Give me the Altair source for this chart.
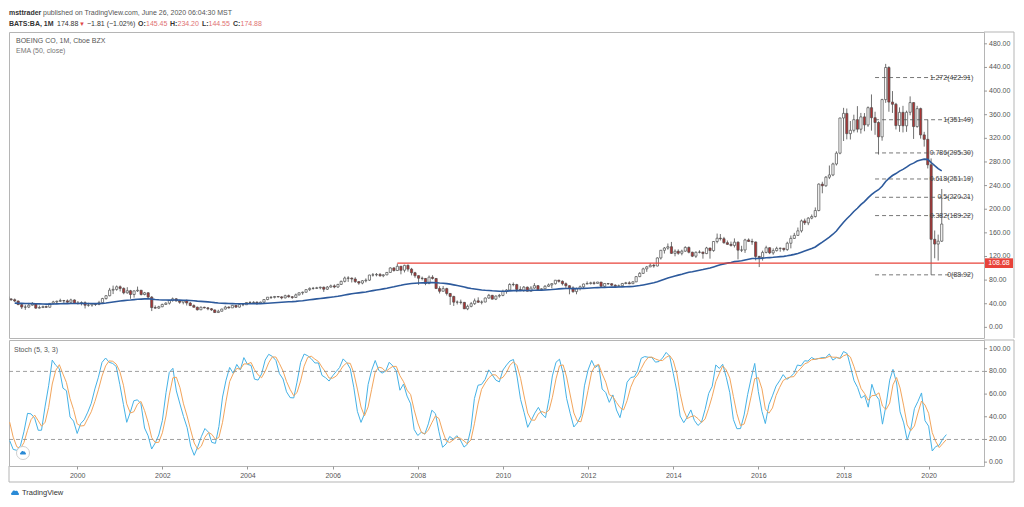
import altair as alt
import pandas as pd
import numpy as np

# ---------------- data (monthly bars, Oct 1997 .. Jun 2020) ----------------
START = "1997-10-01"
FIRST_OPEN = 54.0

closes = [
    48.1, 52.6, 48.9,                                                             # 1997 Oct-Dec
    48.5, 51.9, 52.1, 48.1, 46.8, 44.6, 38.5, 34.4, 34.3, 37.6, 39.6, 32.6,        # 1998
    33.6, 35.1, 34.1, 40.6, 43.1, 44.2, 45.4, 44.9, 42.6, 46.4, 40.4, 41.4,        # 1999
    41.8, 37.5, 37.8, 39.7, 38.8, 41.8, 48.8, 53.6, 63.0, 64.3, 68.7, 66.0,        # 2000
    58.5, 62.0, 55.7, 61.8, 62.9, 55.6, 58.5, 51.2, 33.5, 32.6, 34.9, 38.8,        # 2001
    41.0, 45.4, 48.3, 44.6, 42.5, 45.0, 41.2, 36.9, 34.1, 29.8, 34.0, 33.0,        # 2002
    31.5, 29.5, 25.1, 27.3, 31.0, 34.3, 33.0, 37.3, 34.3, 38.5, 38.3, 42.1,        # 2003
    41.7, 42.4, 41.1, 42.7, 47.1, 51.1, 50.8, 52.2, 51.6, 49.9, 53.6, 51.8,        # 2004
    50.6, 55.0, 58.5, 59.5, 63.9, 66.0, 66.0, 67.0, 68.0, 64.6, 68.2, 70.2,        # 2005
    68.3, 72.7, 77.9, 83.5, 83.3, 81.9, 77.4, 75.0, 78.9, 79.9, 88.6, 88.8,        # 2006
    89.6, 87.4, 88.9, 93.0, 100.6, 96.2, 103.4, 96.7, 105.0, 98.6, 92.5, 87.5,     # 2007
    83.2, 82.8, 74.4, 84.9, 82.8, 65.7, 61.1, 65.6, 57.4, 52.3, 42.7, 42.7,        # 2008
    42.3, 31.4, 35.6, 40.1, 44.9, 42.5, 42.9, 49.7, 54.2, 47.8, 53.0, 54.1,        # 2009
    60.6, 63.2, 72.6, 72.4, 64.2, 62.8, 68.1, 61.2, 66.5, 70.6, 63.8, 65.3,        # 2010
    69.5, 71.9, 73.9, 79.8, 78.0, 73.9, 70.5, 66.8, 60.5, 65.8, 68.7, 73.4,        # 2011
    74.2, 75.4, 74.4, 76.7, 69.6, 74.3, 73.9, 71.4, 69.6, 70.4, 74.3, 75.4,        # 2012
    73.9, 77.0, 85.9, 91.4, 99.0, 102.4, 105.1, 103.9, 117.5, 130.5, 134.3, 136.5, # 2013
    125.3, 128.9, 125.5, 129.0, 135.3, 127.2, 120.5, 127.1, 127.4, 124.9, 134.4, 130.0,  # 2014
    145.4, 150.9, 150.1, 143.3, 140.5, 138.7, 144.2, 130.7, 131.0, 148.0, 145.4, 144.6,  # 2015
    120.1, 118.1, 126.9, 134.8, 126.1, 129.9, 133.7, 134.0, 131.7, 142.4, 150.6, 155.7,  # 2016
    163.4, 180.2, 176.9, 184.9, 187.6, 197.8, 242.5, 239.7, 254.2, 258.0, 276.6, 294.9,  # 2017
    354.4, 362.2, 327.9, 333.6, 351.6, 335.5, 356.3, 342.7, 371.9, 354.9, 346.8, 322.5,  # 2018
    385.6, 439.9, 381.4, 377.7, 341.6, 364.0, 341.2, 364.1, 380.5, 339.9, 370.3, 325.8,  # 2019
    318.3, 275.2, 149.1, 141.0, 145.9, 174.9,                                             # 2020
]
highs = [
    56.0, 53.6, 54.3,
    53.5, 54.3, 56.3, 53.8, 49.2, 48.9, 45.3, 39.9, 38.3, 41.4, 42.9, 40.0,
    36.9, 37.0, 36.9, 41.2, 45.0, 45.4, 48.5, 46.4, 47.3, 48.5, 47.3, 44.6,
    44.0, 44.0, 41.6, 41.1, 41.2, 44.9, 50.0, 54.4, 66.8, 70.7, 70.9, 70.9,
    67.6, 68.0, 63.4, 62.3, 69.0, 63.0, 60.0, 59.5, 53.0, 37.1, 36.5, 40.1,
    42.5, 46.0, 50.5, 49.6, 46.5, 46.4, 47.0, 43.2, 39.0, 35.2, 35.5, 35.0,
    34.5, 32.6, 30.0, 29.8, 31.6, 36.5, 35.5, 37.5, 38.1, 39.0, 39.5, 42.3,
    44.4, 44.3, 44.2, 43.6, 47.3, 51.3, 52.4, 53.2, 52.5, 52.6, 55.3, 55.5,
    53.0, 57.2, 59.0, 60.6, 64.0, 67.6, 68.4, 68.6, 68.9, 69.0, 70.0, 72.4,
    72.8, 73.6, 79.1, 86.0, 86.6, 84.5, 84.9, 78.0, 80.0, 82.9, 89.0, 92.0,
    92.0, 92.0, 90.0, 93.6, 101.6, 101.7, 108.0, 104.0, 106.0, 106.5, 100.7, 94.0,
    88.0, 86.0, 83.5, 87.8, 88.3, 83.5, 69.5, 69.9, 67.0, 58.0, 53.5, 45.5,
    47.0, 43.0, 38.4, 43.0, 48.8, 50.8, 45.6, 50.5, 56.6, 55.0, 54.0, 56.6,
    63.8, 64.5, 74.7, 76.0, 73.7, 69.5, 70.0, 69.0, 69.8, 74.9, 71.3, 66.3,
    71.5, 74.3, 75.0, 80.3, 80.6, 79.5, 76.0, 71.1, 69.5, 67.3, 70.8, 74.0,
    77.8, 77.2, 77.8, 77.0, 76.7, 74.7, 74.8, 74.6, 72.9, 72.5, 75.2, 77.0,
    78.0, 78.1, 86.5, 93.5, 101.0, 104.0, 108.5, 107.5, 118.5, 131.0, 136.0, 142.0,
    144.6, 132.0, 132.0, 131.5, 137.3, 137.0, 128.0, 128.6, 130.5, 128.0, 136.3, 134.5,
    146.0, 158.8, 158.0, 153.2, 147.0, 145.2, 150.6, 145.5, 138.1, 150.0, 150.6, 150.0,
    145.0, 121.0, 129.9, 138.2, 135.5, 133.7, 136.5, 135.0, 134.4, 145.0, 155.5, 160.0,
    169.0, 182.6, 184.1, 186.5, 191.0, 203.0, 243.8, 246.5, 256.2, 274.0, 278.7, 298.0,
    355.0, 371.6, 370.5, 349.3, 360.0, 374.5, 363.0, 362.8, 374.0, 394.3, 365.0, 348.9,
    387.0, 446.0, 442.0, 400.0, 380.0, 372.4, 375.0, 366.9, 391.0, 381.0, 375.0, 372.0,
    331.0, 351.5, 286.0, 164.0, 157.0, 234.2,
]
lows = [
    46.4, 46.8, 46.3,
    45.0, 47.6, 50.3, 47.3, 44.8, 43.0, 37.7, 31.0, 29.6, 32.6, 36.6, 31.5,
    32.0, 32.6, 32.8, 33.3, 38.8, 40.6, 42.8, 41.4, 41.4, 41.1, 39.8, 38.6,
    37.2, 32.0, 35.0, 35.0, 36.3, 37.5, 40.5, 47.0, 52.5, 56.4, 62.0, 60.8,
    56.0, 57.0, 48.4, 50.3, 60.0, 54.0, 54.3, 50.0, 27.6, 31.6, 31.3, 34.2,
    38.0, 38.6, 43.5, 44.0, 40.0, 39.0, 37.0, 36.0, 33.5, 28.5, 29.2, 32.0,
    29.0, 28.0, 24.7, 24.6, 27.0, 30.4, 31.8, 32.8, 33.0, 33.5, 35.8, 37.9,
    40.5, 40.2, 38.0, 40.0, 40.3, 46.0, 48.0, 49.0, 50.5, 47.5, 49.0, 50.3,
    48.2, 49.8, 54.0, 55.2, 59.0, 61.5, 63.8, 64.9, 64.5, 60.1, 63.3, 67.5,
    66.2, 67.0, 71.7, 76.1, 77.0, 76.0, 75.3, 72.1, 72.9, 76.1, 78.5, 86.0,
    86.3, 85.7, 84.9, 88.2, 92.5, 94.4, 95.5, 89.8, 93.0, 94.4, 88.0, 84.0,
    72.0, 79.5, 71.4, 73.0, 81.0, 65.5, 57.4, 60.9, 54.0, 38.0, 36.2, 38.7,
    38.9, 31.2, 29.1, 34.0, 38.0, 41.7, 38.9, 42.5, 48.4, 47.3, 46.2, 50.3,
    52.7, 57.0, 62.7, 69.5, 59.6, 61.4, 60.1, 60.9, 61.0, 65.5, 63.3, 62.5,
    64.5, 68.5, 66.0, 72.4, 75.8, 71.0, 66.5, 56.0, 58.5, 56.0, 62.5, 66.5,
    73.2, 72.5, 72.1, 74.2, 66.8, 66.9, 71.7, 69.9, 69.0, 68.6, 68.6, 73.0,
    73.0, 73.4, 76.7, 85.0, 90.5, 94.0, 102.0, 101.0, 103.3, 114.8, 125.0, 131.5,
    124.5, 120.3, 123.0, 122.0, 128.0, 125.3, 119.0, 117.6, 125.3, 116.3, 124.0, 116.3,
    128.0, 142.3, 147.0, 141.5, 139.8, 136.8, 135.3, 115.1, 127.5, 126.0, 145.0, 139.7,
    113.4, 102.1, 113.0, 125.3, 124.0, 123.0, 128.5, 128.0, 128.6, 129.5, 133.7, 149.6,
    155.0, 160.5, 173.3, 173.0, 183.0, 186.0, 196.5, 227.0, 238.0, 251.0, 256.0, 274.0,
    293.0, 315.5, 318.3, 318.0, 330.0, 330.0, 328.0, 332.0, 339.5, 333.0, 326.0, 292.5,
    316.0, 380.0, 365.0, 363.0, 335.0, 331.0, 330.0, 331.0, 359.0, 319.0, 338.0, 319.5,
    306.0, 269.0, 88.9, 117.0, 113.0, 144.6,
]

EMA_LEN = 50
EMA_START_DATE = "1998-06-01"
EMA_START_VALUE = 41.0          # EMA level read at the first visible bar

FIB_LEVELS = [1.272, 1.0, 0.786, 0.618, 0.5, 0.382, 0.0]
FIB_PRICES = [422.91, 351.49, 295.30, 251.19, 220.21, 189.22, 88.92]
FIB_START, FIB_END = "2018-11-01", "2021-03-01"
HLINE_PRICE = 108.68
HLINE_START = "2007-07-01"

PRICE_TICKS = list(range(0, 481, 40))
STOCH_TICKS = [0, 20, 40, 60, 80, 100]
STOCH_BANDS = [80, 20]
YEAR_TICKS = list(range(2000, 2021, 2))

# ---------------- derived tables ----------------
n = len(closes)
dates = pd.date_range(START, periods=n, freq="MS")
df = pd.DataFrame({"date": dates.strftime("%Y-%m-%d"), "close": closes,
                   "high": highs, "low": lows})
df["open"] = [FIRST_OPEN] + closes[:-1]
df["dir"] = np.where(df["close"] >= df["open"], "up", "down")

alpha = 2.0 / (EMA_LEN + 1)
i0 = int(np.where(df["date"] == EMA_START_DATE)[0][0])
ema_vals = [EMA_START_VALUE]
for c in closes[i0 + 1:]:
    ema_vals.append(alpha * c + (1 - alpha) * ema_vals[-1])
ema_df = pd.DataFrame({"date": df["date"].iloc[i0:].values, "ema": ema_vals})

ll = df["low"].rolling(5).min()
hh = df["high"].rolling(5).max()
rawk = 100 * (df["close"] - ll) / (hh - ll)
k = rawk.rolling(3).mean()
d = k.rolling(3).mean()
st = pd.DataFrame({"date": df["date"], "k": k, "d": d}).dropna()

fib = pd.DataFrame({"price": FIB_PRICES,
                    "label": [f"{l:g}({p:.2f})" for l, p in zip(FIB_LEVELS, FIB_PRICES)],
                    "start": FIB_START, "end": FIB_END})
hline = pd.DataFrame({"date": [HLINE_START], "price": [HLINE_PRICE]})
bands = pd.DataFrame({"lvl": STOCH_BANDS})
pticks = pd.DataFrame({"v": PRICE_TICKS, "lab": [f"{v:.2f}" for v in PRICE_TICKS]})
sticks = pd.DataFrame({"v": STOCH_TICKS, "lab": [f"{v:.2f}" for v in STOCH_TICKS]})
one = pd.DataFrame({"k": [0]})

# ---------------- layout ----------------
W, H1, H2 = 975, 306, 126
FONT = "Liberation Sans"
FRAME = "#b5b5b5"
AXC = "#555"

xs = alt.Scale(type="utc", domain=[alt.DateTime(year=1998, month=5, date=26, utc=True),
                                   alt.DateTime(year=2021, month=4, date=20, utc=True)])
ys = alt.Scale(domain=[-18, 500], nice=False, zero=False)
ss = alt.Scale(domain=[-3.4, 107.7], nice=False, zero=False)


def txt(s, x, y, size=7, color="#444", bold=False, align="left"):
    return alt.Chart(one).mark_text(
        text=s, font=FONT, fontSize=size, color=color, align=align, baseline="middle",
        fontWeight="bold" if bold else "normal").encode(x=alt.value(x), y=alt.value(y))


def vrule(x, y1, y2, color=FRAME):
    return alt.Chart(one).mark_rule(color=color, strokeWidth=1).encode(
        x=alt.value(x), y=alt.value(y1), y2=alt.value(y2))


def hrule(y, x1, x2, color=FRAME):
    return alt.Chart(one).mark_rule(color=color, strokeWidth=1).encode(
        y=alt.value(y), x=alt.value(x1), x2=alt.value(x2))


def right_axis(table):
    tk = alt.Chart(table).mark_rule(color="#999", strokeWidth=1).encode(
        y=alt.Y("v:Q", title=None, axis=None), x=alt.value(W), x2=alt.value(W + 3))
    lb = alt.Chart(table).mark_text(font=FONT, fontSize=7, color=AXC, align="left",
                                    baseline="middle").encode(
        y=alt.Y("v:Q", title=None, axis=None), x=alt.value(W + 5), text="lab:N")
    return [tk, lb]


CLOUD = ("M -0.75 0.45 A 0.33 0.33 0 0 1 -0.62 -0.15 A 0.45 0.45 0 0 1 0.15 -0.45 "
         "A 0.42 0.42 0 0 1 0.72 0.0 A 0.23 0.23 0 0 1 0.72 0.45 Z")

# ---------------- price panel ----------------
wick = alt.Chart(df).mark_rule(clip=True, color="#4d4d4d", strokeWidth=0.8).encode(
    x=alt.X("date:T", scale=xs, axis=None),
    y=alt.Y("low:Q", scale=ys, title=None, axis=None),
    y2="high:Q")
body = alt.Chart(df).mark_bar(clip=True, size=2.2, stroke="#4d4d4d", strokeWidth=0.7).encode(
    x=alt.X("date:T", axis=None), y=alt.Y("open:Q", title=None, axis=None), y2="close:Q",
    fill=alt.Fill("dir:N", scale=alt.Scale(domain=["up", "down"], range=["#ffffff", "#ad3535"]),
                  legend=None))
ema = alt.Chart(ema_df).mark_line(clip=True, color="#2d5a9c", strokeWidth=1.6).encode(
    x=alt.X("date:T", axis=None), y=alt.Y("ema:Q", title=None, axis=None))
red = alt.Chart(hline).mark_rule(color="#e8433a", strokeWidth=1.4).encode(
    x=alt.X("date:T", axis=None), x2=alt.value(W), y=alt.Y("price:Q", title=None, axis=None))
fib_r = alt.Chart(fib).mark_rule(color="#555", strokeWidth=0.8, strokeDash=[4, 3]).encode(
    x=alt.X("start:T", axis=None), x2="end:T", y=alt.Y("price:Q", title=None, axis=None))
fib_t = alt.Chart(fib).mark_text(font=FONT, fontSize=7, color="#444", align="right",
                                 baseline="middle").encode(
    x=alt.X("end:T", axis=None), y=alt.Y("price:Q", title=None, axis=None), text="label:N")
red_box = alt.Chart(one).mark_rect(color="#e8433a").encode(
    x=alt.value(W + 1), x2=alt.value(W + 29),
    y=alt.datum(HLINE_PRICE + 8.2), y2=alt.datum(HLINE_PRICE - 8.2))
red_txt = alt.Chart(one).mark_text(text=f"{HLINE_PRICE:.2f}", font=FONT, fontSize=7,
                                   color="white", align="center", baseline="middle").encode(
    x=alt.value(W + 15), y=alt.datum(HLINE_PRICE))

header = [
    txt("msttrader", 0, -19, bold=True, color="#333"),
    txt("published on TradingView.com, June 26, 2020 06:04:30 MST", 34, -19, color="#555"),
    txt("BATS:BA, 1M", 0, -8, bold=True, color="#333"),
    txt("174.88", 48, -8, color="#333"),
    txt("▼", 70, -8, color="#e04848", size=6),
    txt("−1.81 (−1.02%)", 78, -8, color="#333"),
    txt("O:", 129, -8, bold=True, color="#333"),
    txt("145.45", 137, -8, color="#e07272"),
    txt("H:", 161, -8, bold=True, color="#333"),
    txt("234.20", 168.5, -8, color="#e07272"),
    txt("L:", 193, -8, bold=True, color="#333"),
    txt("144.55", 199.5, -8, color="#e07272"),
    txt("C:", 224, -8, bold=True, color="#333"),
    txt("174.88", 231.5, -8, color="#e07272"),
    txt("BOEING CO, 1M, Cboe BZX", 7, 9, color="#555"),
    txt("EMA (50, close)", 7, 19, color="#777"),
]

price = alt.layer(
    wick, body, ema, red, fib_r, fib_t, *right_axis(pticks), red_box, red_txt,
    *header,
    vrule(W + 30, 0, H1), hrule(0, W, W + 30),
).properties(width=W, height=H1)

# ---------------- stochastic panel ----------------
kline = alt.Chart(st).mark_line(clip=True, color="#45b2e6", strokeWidth=1).encode(
    x=alt.X("date:T", scale=xs, title=None,
            axis=alt.Axis(values=[alt.DateTime(year=y, month=1, date=1, utc=True) for y in YEAR_TICKS],
                          format="%Y", labelFlush=False, labelOverlap=False)),
    y=alt.Y("k:Q", scale=ss, title=None, axis=None))
dline = alt.Chart(st).mark_line(clip=True, color="#f2a55c", strokeWidth=1).encode(
    x="date:T", y=alt.Y("d:Q", title=None, axis=None))
band = alt.Chart(bands).mark_rule(color="#888", strokeWidth=0.8, strokeDash=[4, 3]).encode(
    y=alt.Y("lvl:Q", title=None, axis=None), x=alt.value(0), x2=alt.value(W))

logo_circle = alt.Chart(one).mark_point(shape="circle", size=170, filled=True, fill="white",
                                        stroke="#cfcfcf", strokeWidth=1, opacity=1).encode(
    x=alt.value(14), y=alt.value(H2 - 13))
logo_cloud = alt.Chart(one).mark_point(shape=CLOUD, size=45, filled=True, fill="#2a8ad6",
                                       opacity=1).encode(x=alt.value(14), y=alt.value(H2 - 13))
foot_cloud = alt.Chart(one).mark_point(shape=CLOUD, size=80, filled=True, fill="#2a8ad6",
                                       opacity=1).encode(x=alt.value(6), y=alt.value(H2 + 27))

stoch = alt.layer(
    kline, dline, band, *right_axis(sticks),
    txt("Stoch (5, 3, 3)", 5, 10, color="#555"),
    logo_circle, logo_cloud, foot_cloud,
    txt("TradingView", 13, H2 + 27, size=7.5, color="#333"),
    vrule(W + 30, 0, H2 + 16), hrule(0, W, W + 30),
    hrule(H2 + 16, 0, W + 30), vrule(0, H2, H2 + 16),
).properties(width=W, height=H2)

chart = alt.vconcat(price, stoch, spacing=0, padding=0, background="white").configure_view(
    stroke=FRAME, strokeWidth=1
).configure_axis(
    labelFont=FONT, labelFontSize=7, labelColor=AXC, tickColor="#999", tickSize=3,
    domain=False, grid=False, labelPadding=2, labelOverlap=False
)

chart.save("out.html", embed_options={"renderer": "svg", "actions": False})
